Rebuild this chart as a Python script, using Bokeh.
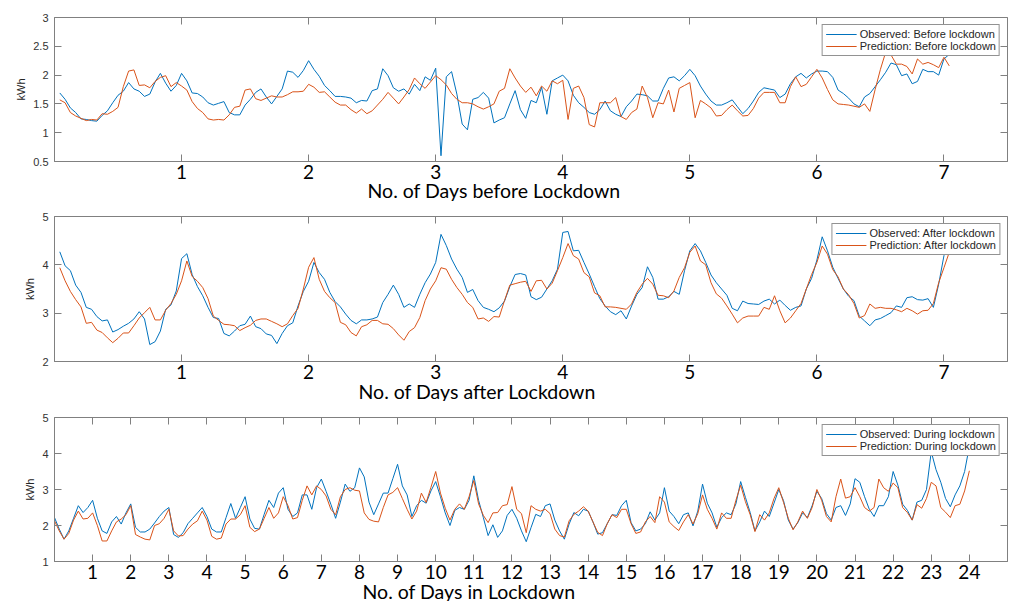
import numpy as np
from bokeh.plotting import figure
from bokeh.models import FixedTicker, LinearAxis, Range1d, Title, CustomLabelingPolicy
from bokeh.layouts import column
from bokeh.embed import file_html
from bokeh.resources import INLINE

# ---------------- data (hourly, panels 1 and 2) ----------------
before_obs = [1.69, 1.58, 1.43, 1.35, 1.24, 1.23, 1.21, 1.20, 1.30, 1.38, 1.52, 1.65, 1.72, 1.87, 1.76, 1.72,
              1.63, 1.67, 1.88, 2.03, 1.86, 1.72, 1.82, 2.03, 1.90, 1.69, 1.68, 1.62, 1.52, 1.48, 1.51, 1.54,
              1.35, 1.31, 1.31, 1.48, 1.58, 1.70, 1.76, 1.62, 1.50, 1.63, 1.76, 2.07, 2.05, 1.96, 2.08, 2.25,
              2.10, 1.98, 1.82, 1.73, 1.63, 1.63, 1.62, 1.60, 1.52, 1.56, 1.55, 1.73, 1.76, 2.11, 1.99, 1.78,
              1.72, 1.76, 1.67, 1.84, 1.73, 1.97, 1.91, 2.12, 0.60, 1.97, 2.06, 1.67, 1.15, 1.05, 1.58, 1.61,
              1.70, 1.60, 1.17, 1.22, 1.26, 1.50, 1.73, 1.40, 1.25, 1.56, 1.52, 1.79, 1.32, 1.90, 1.95, 2.00,
              1.90, 1.65, 1.52, 1.44, 1.35, 1.32, 1.40, 1.55, 1.38, 1.32, 1.28, 1.45, 1.55, 1.67, 1.66, 1.64,
              1.55, 1.55, 1.77, 1.95, 1.97, 1.90, 1.99, 2.10, 1.99, 1.81, 1.67, 1.55, 1.48, 1.48, 1.52, 1.57,
              1.45, 1.33, 1.42, 1.55, 1.70, 1.78, 1.76, 1.74, 1.61, 1.67, 1.85, 1.97, 2.03, 1.95, 2.02, 2.07,
              2.07, 2.06, 1.96, 1.74, 1.68, 1.60, 1.50, 1.45, 1.62, 1.68, 1.80, 1.92, 2.05, 2.21, 2.18, 1.99,
              2.02, 1.85, 1.89, 2.10, 2.06, 2.06, 2.00, 2.28, 2.36]
before_pred = [1.57, 1.52, 1.35, 1.29, 1.25, 1.21, 1.23, 1.22, 1.33, 1.32, 1.37, 1.44, 1.80, 2.07, 2.09, 1.82,
               1.83, 1.78, 1.89, 1.96, 1.99, 1.80, 1.87, 1.81, 1.74, 1.54, 1.42, 1.35, 1.24, 1.22, 1.23, 1.22,
               1.31, 1.44, 1.46, 1.74, 1.76, 1.59, 1.56, 1.60, 1.64, 1.62, 1.62, 1.66, 1.71, 1.71, 1.72, 1.84,
               1.79, 1.70, 1.71, 1.62, 1.53, 1.48, 1.48, 1.40, 1.34, 1.41, 1.33, 1.38, 1.48, 1.58, 1.70, 1.60,
               1.50, 1.62, 1.75, 1.95, 1.85, 1.77, 1.88, 1.99, 1.92, 1.83, 1.68, 1.58, 1.52, 1.52, 1.50, 1.45,
               1.41, 1.45, 1.50, 1.72, 1.77, 2.11, 1.95, 1.81, 1.70, 1.79, 1.64, 1.81, 1.72, 1.90, 1.85, 1.91,
               1.23, 1.77, 1.81, 1.61, 1.14, 1.10, 1.52, 1.52, 1.52, 1.61, 1.28, 1.23, 1.35, 1.41, 1.81, 1.61,
               1.26, 1.52, 1.50, 1.74, 1.36, 1.77, 1.82, 1.87, 1.26, 1.56, 1.50, 1.43, 1.29, 1.30, 1.40, 1.48,
               1.38, 1.29, 1.30, 1.42, 1.60, 1.70, 1.70, 1.70, 1.52, 1.52, 1.80, 1.97, 1.80, 1.84, 1.97, 2.10,
               1.95, 1.75, 1.57, 1.50, 1.49, 1.48, 1.46, 1.44, 1.50, 1.37, 1.75, 2.10, 2.40, 2.35, 2.19, 2.19,
               2.15, 2.02, 2.28, 2.19, 2.22, 2.18, 2.13, 2.31, 2.16]
after_obs = [4.27, 3.98, 3.88, 3.58, 3.43, 3.12, 3.08, 2.93, 2.84, 2.86, 2.61, 2.66, 2.73, 2.79, 2.88, 3.03,
             2.88, 2.35, 2.41, 2.63, 3.08, 3.17, 3.46, 4.13, 4.23, 3.80, 3.55, 3.36, 3.12, 2.91, 2.89, 2.58,
             2.53, 2.63, 2.74, 2.77, 2.94, 2.72, 2.68, 2.57, 2.54, 2.37, 2.58, 2.74, 2.80, 3.15, 3.45, 3.66,
             4.05, 3.84, 3.70, 3.43, 3.24, 3.13, 2.98, 2.85, 2.78, 2.86, 2.86, 2.88, 2.92, 3.22, 3.39, 3.58,
             3.39, 3.12, 3.19, 3.12, 3.39, 3.63, 3.81, 4.05, 4.63, 4.40, 4.12, 3.91, 3.74, 3.43, 3.49, 3.26,
             3.12, 3.08, 3.03, 3.11, 3.25, 3.55, 3.80, 3.82, 3.79, 3.34, 3.28, 3.33, 3.50, 3.67, 3.91, 4.67,
             4.69, 4.29, 4.30, 4.05, 3.81, 3.55, 3.30, 3.15, 3.03, 2.97, 3.05, 2.88, 3.15, 3.39, 3.53, 3.96,
             3.74, 3.29, 3.29, 3.34, 3.45, 3.39, 3.88, 4.29, 4.44, 4.29, 4.05, 3.79, 3.63, 3.50, 3.37, 3.10,
             3.05, 3.25, 3.20, 3.19, 3.18, 3.25, 3.29, 3.19, 3.27, 3.16, 3.06, 3.12, 3.15, 3.50, 3.72, 4.10,
             4.58, 4.29, 3.95, 3.72, 3.50, 3.35, 3.26, 2.94, 2.84, 2.74, 2.86, 2.89, 2.95, 3.01, 3.15, 3.12,
             3.32, 3.34, 3.28, 3.27, 3.30, 3.12, 3.60, 4.19, 4.60]
after_pred = [3.94, 3.67, 3.45, 3.28, 3.13, 2.79, 2.81, 2.65, 2.60, 2.49, 2.39, 2.48, 2.59, 2.59, 2.74, 2.90,
              3.01, 3.12, 2.86, 2.86, 3.06, 3.20, 3.39, 3.67, 4.08, 3.76, 3.66, 3.53, 3.30, 2.94, 2.85, 2.77,
              2.76, 2.74, 2.64, 2.70, 2.75, 2.85, 2.88, 2.88, 2.83, 2.78, 2.72, 2.78, 2.95, 3.10, 3.50, 3.95,
              4.15, 3.70, 3.45, 3.32, 3.22, 2.81, 2.76, 2.60, 2.53, 2.72, 2.76, 2.85, 2.85, 2.78, 2.77, 2.68,
              2.55, 2.44, 2.62, 2.70, 2.91, 3.26, 3.50, 3.67, 3.94, 3.91, 3.70, 3.53, 3.39, 3.22, 3.12, 2.88,
              2.90, 2.83, 2.93, 2.92, 3.26, 3.58, 3.61, 3.64, 3.66, 3.45, 3.67, 3.68, 3.50, 3.62, 3.88, 4.15,
              4.44, 4.19, 4.12, 3.84, 3.75, 3.42, 3.36, 3.13, 3.13, 3.12, 3.10, 3.08, 3.19, 3.43, 3.60, 3.72,
              3.60, 3.37, 3.36, 3.32, 3.46, 3.74, 3.94, 4.26, 4.39, 4.08, 4.00, 3.63, 3.40, 3.31, 3.15, 2.98,
              2.80, 2.90, 2.94, 2.94, 2.94, 3.12, 3.08, 3.36, 3.05, 2.80, 2.90, 3.05, 3.20, 3.50, 3.80, 4.05,
              4.39, 4.22, 3.90, 3.75, 3.50, 3.38, 3.20, 2.90, 2.95, 3.19, 3.10, 3.12, 3.10, 3.10, 3.07, 3.03,
              3.10, 3.05, 2.98, 3.05, 3.06, 3.20, 3.63, 3.94, 4.26]

# ---------------- data (3-hourly, panel 3) ----------------
during_obs = [2.22, 1.90, 1.62, 1.85, 2.20, 2.55, 2.36, 2.50, 2.70, 2.20, 1.85, 1.78, 2.10, 2.25, 2.04, 2.35,
              2.60, 1.95, 1.82, 1.82, 1.90, 2.07, 2.25, 2.40, 2.50, 1.75, 1.67, 1.80, 2.05, 2.20, 2.35, 2.50,
              2.25, 1.90, 1.82, 1.82, 2.22, 2.61, 2.20, 2.50, 2.80, 2.18, 1.92, 1.90, 2.31, 2.70, 2.50, 2.90,
              3.05, 2.45, 2.25, 2.35, 2.85, 2.85, 2.45, 3.05, 3.29, 2.95, 2.59, 2.20, 2.65,
              3.15, 2.95, 3.05, 3.60, 3.35, 2.65, 2.30, 2.60, 2.90, 2.90, 3.30, 3.70, 3.10, 2.85, 2.25, 2.55,
              2.70, 2.62, 2.96, 3.22, 2.80, 2.35, 2.00, 2.42, 2.50, 2.45, 2.70, 3.38, 2.70, 2.22, 1.72, 2.02,
              1.67, 1.85, 2.28, 2.45, 2.20, 1.85, 1.55, 1.94, 2.31, 2.25, 2.55, 2.60, 2.15, 1.85, 1.62, 2.04,
              2.36, 2.27, 2.45, 2.40, 2.10, 1.76, 1.80, 2.05, 2.30, 2.28, 2.55, 2.70, 2.08, 1.85, 1.90, 2.05,
              2.38, 2.15, 2.35, 3.05, 2.40,
              2.25, 2.05, 2.30, 2.35, 1.99, 2.40, 3.15, 2.62, 2.35, 1.95, 2.22, 2.35, 2.30, 2.60, 3.22, 2.78,
              2.36, 1.85, 2.10, 2.40, 2.25, 2.62, 3.00, 2.69, 2.15, 1.90, 2.08, 2.35, 2.22, 2.55, 2.95, 2.75,
              2.33, 2.15, 2.50, 2.55, 2.28, 2.60, 3.30, 3.20, 2.80, 2.45, 2.25, 2.55, 2.55, 2.80, 3.50, 3.12,
              2.59, 2.42, 2.15, 2.65, 2.70, 3.00, 4.05, 3.55, 3.20, 2.75, 2.52, 2.85, 3.10, 3.50, 4.20]
during_pred = [2.13, 1.85, 1.62, 1.78, 2.15, 2.40, 2.18, 2.20, 2.35, 2.00, 1.57, 1.57, 1.85, 2.10, 2.18, 2.30,
               2.55, 1.75, 1.68, 1.62, 1.60, 2.00, 2.05, 2.20, 2.45, 1.85, 1.71, 1.72, 1.90, 2.04, 2.13, 2.40,
               2.15, 1.70, 1.62, 1.65, 2.04, 2.18, 2.18, 2.30, 2.55, 1.95, 1.83, 1.90, 2.20, 2.50, 2.20, 2.35,
               2.80, 2.55, 2.18, 2.22, 2.70, 3.10, 2.85, 3.10, 3.00, 2.82, 2.45, 2.30, 2.80,
               3.00, 3.05, 2.98, 2.96, 2.35, 2.17, 2.12, 2.10, 2.50, 2.85, 2.92, 3.05, 2.75, 2.45, 2.18, 2.40,
               2.90, 2.64, 3.06, 3.50, 2.90, 2.48, 2.15, 2.45, 2.60, 2.45, 2.80, 3.25, 2.60, 2.28, 2.08, 2.35,
               2.36, 2.55, 2.58, 3.08, 2.45, 2.33, 1.80, 2.55, 2.45, 2.40, 2.45, 2.33, 1.90, 1.72, 1.68, 2.13,
               2.31, 2.40, 2.52, 2.40, 2.10, 1.81, 1.72, 2.05, 2.30, 2.22, 2.45, 2.45, 2.05, 1.78, 1.82, 2.10,
               2.25, 2.08, 2.80, 2.65, 2.10,
               1.97, 1.86, 2.10, 2.30, 2.04, 2.33, 2.85, 2.45, 2.20, 1.90, 2.35, 2.20, 2.20, 2.70, 3.12, 2.66,
               2.30, 1.83, 2.30, 2.15, 2.35, 2.75, 3.05, 2.64, 2.20, 1.88, 2.10, 2.40, 2.20, 2.50, 3.00, 2.70,
               2.25, 2.10, 2.80, 3.29, 2.76, 2.80, 3.05, 2.80, 2.50, 2.40, 2.50, 3.29, 3.05, 2.95, 3.18, 3.05,
               2.50, 2.36, 2.15, 2.58, 2.48, 2.75, 3.20, 3.10, 2.50, 2.37, 2.22, 2.55, 2.59, 2.96, 3.52]

week_ticks = [1, 2, 3, 4, 5, 6, 7]
month_ticks = list(range(1, 25))
y_ticks_1 = [0.5, 1, 1.5, 2, 2.5, 3]
y_labels_1 = ["0.5", "1", "1.5", "2", "2.5", "3"]
y_ticks_2 = [2, 3, 4, 5]
y_labels_2 = ["2", "3", "4", "5"]
y_ticks_3 = [1, 2, 3, 4, 5]
y_labels_3 = ["1", "2", "3", "4", "5"]

BLUE = "#0072BD"
ORANGE = "#D95319"
FRAME = "#808080"


def panel(obs, pred, per_day, xr, yr, xticks, yticks, ylabels, xlabel, xoff,
          lab_obs, lab_pred, top, fh, bottom, title_standoff):
    xo = (np.arange(len(obs)) + (1 if per_day == 24 else 0)) / per_day
    xp = (np.arange(len(pred)) + (1 if per_day == 24 else 0)) / per_day
    p = figure(frame_width=953, frame_height=fh, x_range=Range1d(*xr), y_range=Range1d(*yr),
               output_backend="svg", toolbar_location=None,
               min_border_left=54, min_border_right=4, min_border_top=top, min_border_bottom=bottom)
    p.grid.visible = False
    p.outline_line_color = FRAME
    p.outline_line_width = 1
    p.background_fill_color = "white"
    p.border_fill_color = "white"

    p.line(xo, obs, line_color=BLUE, line_width=1, legend_label=lab_obs)
    p.line(xp, pred, line_color=ORANGE, line_width=1, legend_label=lab_pred)

    xa = p.xaxis[0]
    xa.ticker = FixedTicker(ticks=xticks)
    xa.major_tick_in = 7
    xa.major_tick_out = 0
    xa.minor_tick_line_color = None
    xa.axis_line_color = FRAME
    xa.major_tick_line_color = FRAME
    xa.major_label_text_font = "Lato"
    xa.major_label_text_font_size = "19px"
    xa.major_label_text_color = "black"
    xa.major_label_standoff = 3

    ya = p.yaxis[0]
    ya.ticker = FixedTicker(ticks=yticks)
    ya.major_label_overrides = {t: l for t, l in zip(yticks, ylabels)}
    ya.major_tick_in = 7
    ya.major_tick_out = 0
    ya.minor_tick_line_color = None
    ya.axis_line_color = FRAME
    ya.major_tick_line_color = FRAME
    ya.major_label_text_font = "Liberation Sans"
    ya.major_label_text_font_size = "11px"
    ya.major_label_text_color = "#333333"
    ya.major_label_standoff = 6
    ya.axis_label = "kWh"
    ya.axis_label_text_font = "Liberation Sans"
    ya.axis_label_text_font_size = "11px"
    ya.axis_label_text_font_style = "normal"
    ya.axis_label_text_color = "#262626"
    ya.axis_label_standoff = 3

    # tick-only axes on the top and right edges (no labels drawn)
    for side, tk in (("above", xticks), ("right", yticks)):
        ax = LinearAxis(ticker=FixedTicker(ticks=tk),
                        major_label_overrides={t: "" for t in tk},
                        major_label_policy=CustomLabelingPolicy(code="return []"),
                        major_label_standoff=0, axis_line_color=None, major_tick_in=7,
                        major_tick_out=0, minor_tick_line_color=None, major_tick_line_color=FRAME)
        p.add_layout(ax, side)

    p.add_layout(Title(text=xlabel, align="left", offset=xoff, text_font="Lato",
                       text_font_size="19.5px", text_font_style="normal", text_color="black",
                       standoff=title_standoff), "below")

    lg = p.legend[0]
    lg.location = "top_right"
    lg.margin = 7
    lg.padding = 3
    lg.spacing = 0
    lg.glyph_width = 31
    lg.glyph_height = 12
    lg.label_height = 12
    lg.label_standoff = 3
    lg.label_text_font = "Liberation Sans"
    lg.label_text_font_size = "11px"
    lg.label_text_color = "#262626"
    lg.border_line_color = "#262626"
    lg.border_line_width = 1
    lg.background_fill_alpha = 1.0
    return p


p1 = panel(before_obs, before_pred, 24, (0, 7.5), (0.5, 3), week_ticks, y_ticks_1, y_labels_1,
           "No. of Days before Lockdown", 313, "Observed: Before lockdown", "Prediction: Before lockdown",
           17, 144, 42, -9)
p2 = panel(after_obs, after_pred, 24, (0, 7.5), (2, 5), week_ticks, y_ticks_2, y_labels_2,
           "No. of Days after Lockdown", 304, "Observed: After lockdown", "Prediction: After lockdown",
           13, 145, 40, -8)
p3 = panel(during_obs, during_pred, 8, (0, 25), (1, 5), month_ticks, y_ticks_3, y_labels_3,
           "No. of Days in Lockdown", 308, "Observed: During lockdown", "Prediction: During lockdown",
           16, 144, 40, -8)

layout = column(p1, p2, p3, spacing=0)
open("out.html", "w").write(file_html(layout, INLINE))
